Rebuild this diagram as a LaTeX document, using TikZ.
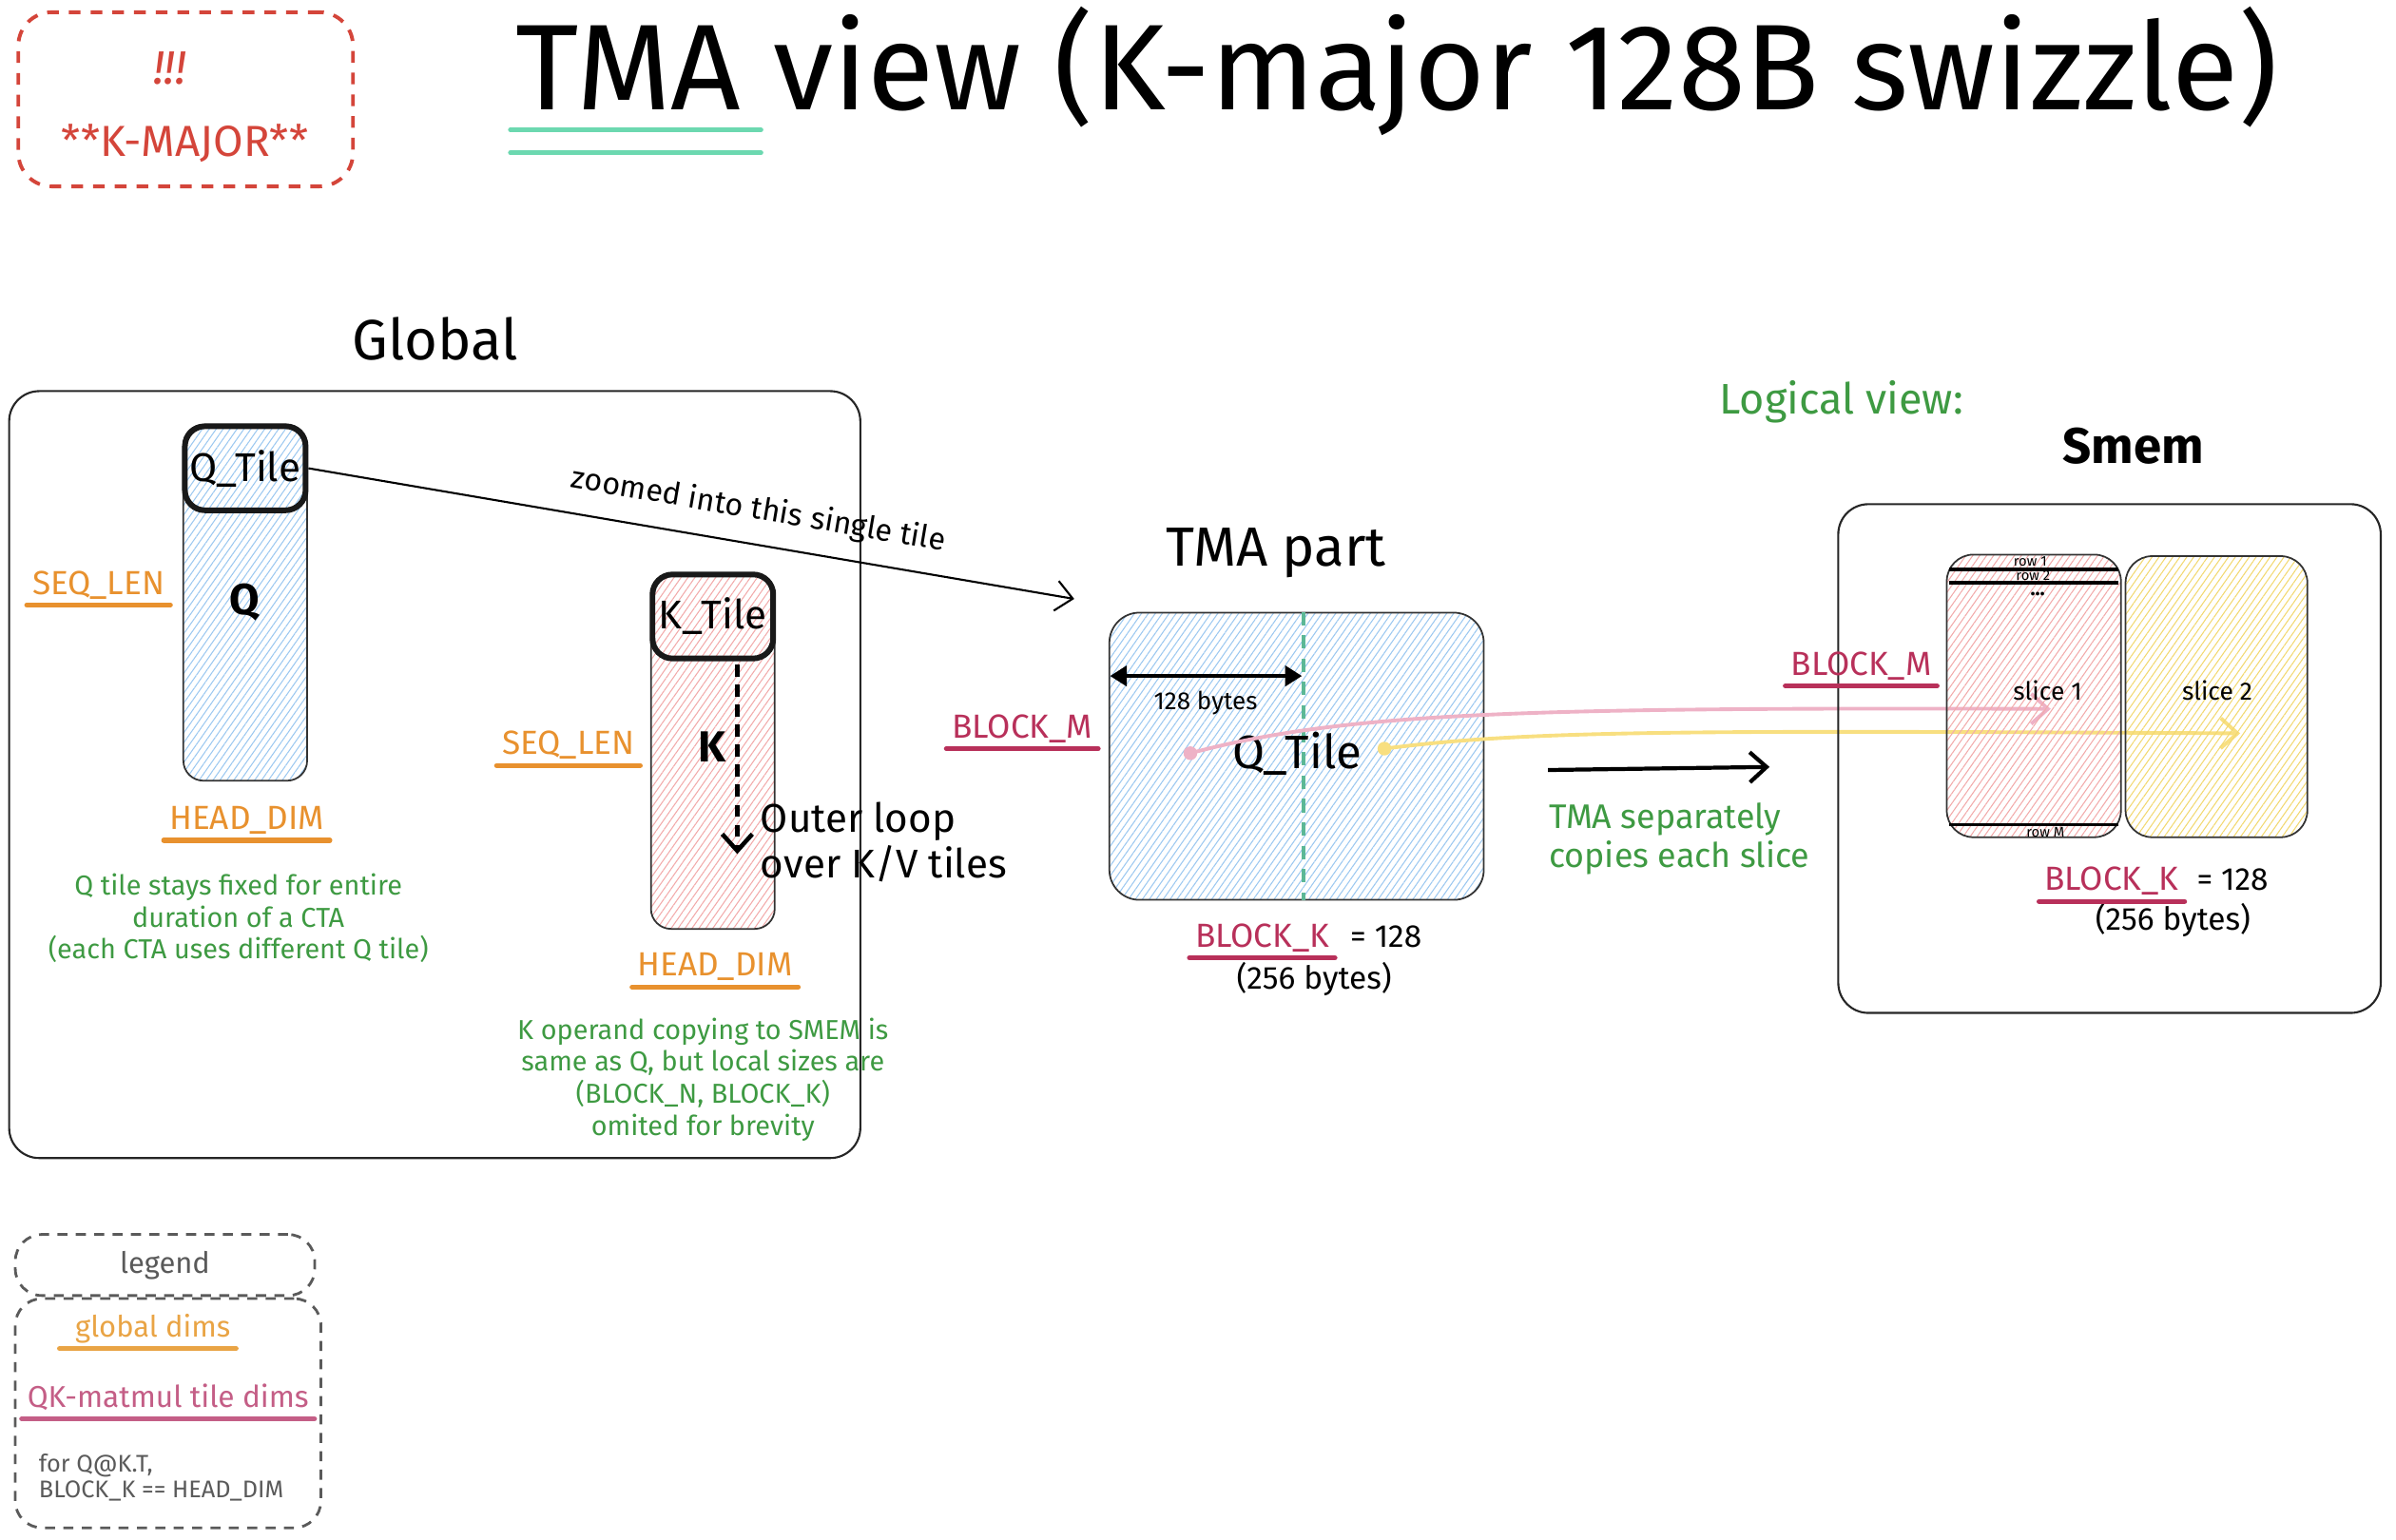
\documentclass[tikz,border=0pt]{standalone}
\usepackage{fontspec}
\setmainfont{Fira Sans}
\usetikzlibrary{arrows.meta,patterns.meta,calc}
\newlength{\px}\setlength{\px}{0.016071cm}

\definecolor{warnred}{HTML}{D4453A}
\definecolor{dimorange}{HTML}{E8912E}
\definecolor{tilecrim}{HTML}{B8305A}
\definecolor{notegreen}{HTML}{3E9A42}
\definecolor{seafoam}{HTML}{6CD8B0}
\definecolor{qblue}{HTML}{9CC8F0}
\definecolor{kpink}{HTML}{F2AAAA}
\definecolor{syellow}{HTML}{F2D870}
\definecolor{flowpink}{HTML}{EEB2C6}
\definecolor{flowyellow}{HTML}{F8DF80}
\definecolor{legendgrey}{HTML}{5A5A5A}
\definecolor{legorange}{HTML}{E9A445}
\definecolor{legpink}{HTML}{C45E86}

\tikzset{
  hatch/.style={pattern={Lines[angle=55,distance=1.7pt,line width=0.3pt]},pattern color=#1},
  panel/.style={draw=black!85,line width=0.6pt,rounded corners=9pt,inner sep=0pt},
  colbox/.style={draw=black!80,line width=0.5pt,rounded corners=6pt,inner sep=0pt,hatch=#1},
  tileframe/.style={draw=black!90,line width=1.7pt,rounded corners=6pt,inner sep=0pt,font=\fontsize{12}{14}\selectfont},
  dim/.style={text=#1,inner xsep=1.5pt,inner ysep=0pt,anchor=base,font=\fontsize{10}{12}\selectfont},
  uline/.style={draw=#1,line width=1.5pt,line cap=round},
  note/.style={text=notegreen,align=center,font=\fontsize{8.2}{9.6}\selectfont},
  rowtag/.style={inner sep=0pt,font=\fontsize{4.2}{5}\selectfont},
  barb/.style={-{Straight Barb[length=5pt,width=9pt]}},
  flow/.style={draw=#1,line width=1.1pt,line cap=round,-{Straight Barb[length=5pt,width=9pt]}},
  dot/.style={circle,fill=#1,inner sep=0pt,minimum size=9\px},
  legendbox/.style={draw=legendgrey,line width=0.8pt,dash pattern=on 3pt off 2.5pt,rounded corners=8pt,inner sep=0pt}
}

\begin{document}
\begin{tikzpicture}[x=0.016071cm,y=-0.016071cm]
\useasboundingbox (0,0) rectangle (1568,1008);

\node[draw=warnred,line width=1.1pt,dash pattern=on 3.5pt off 3pt,rounded corners=10pt,minimum width=219\px,minimum height=114\px] (kmajor) at (121.5,65) {};
\node[text=warnred,font=\fontsize{14}{16}\selectfont\itshape] (bang) at (111,45) {!!!};
\node[text=warnred,font=\fontsize{13}{15}\selectfont] (kmajortxt) at (121,94) {**K-MAJOR**};

\node[anchor=base,font=\fontsize{36.5}{40}\selectfont] (title) at (914,72) {TMA view (K-major 128B swizzle)};
\draw[seafoam,line width=1.4pt,line cap=round] (334,85) -- (498,85) (334,100) -- (498,100);

% global tensors
\node[font=\fontsize{17}{20}\selectfont] (globallbl) at (285,222) {Global};
\node[panel,minimum width=557\px,minimum height=502\px] (globalbox) at (284.5,507) {};

\node[colbox=qblue,minimum width=81\px,minimum height=233\px] (qcol) at (160.5,394.5) {};
\node[tileframe,minimum width=79\px,minimum height=55\px] (qtile) at (160.5,306.5) {Q\_Tile};
\node[font=\fontsize{13}{15}\selectfont\bfseries] (qname) at (160,394) {Q};
\node[dim=dimorange] (seqq) at (64.5,389) {SEQ\_LEN};
\node[dim=dimorange] (headq) at (161.5,543) {HEAD\_DIM};
\node[note] (qnote) at (156,601) {Q tile stays fixed for entire\\duration of a CTA\\(each CTA uses different Q tile)};

\node[colbox=kpink,minimum width=81\px,minimum height=232\px] (kcol) at (466.5,492) {};
\node[tileframe,minimum width=79\px,minimum height=55\px] (ktile) at (466.5,403.5) {K\_Tile};
\node[font=\fontsize{13}{15}\selectfont\bfseries] (kname) at (466,489) {K};
\coordinate (loopend) at (482.5,559);
\draw[line width=1.3pt,dash pattern=on 3.6pt off 2.4pt,barb] ([xshift=16\px,yshift=-2\px]ktile.south) -- (loopend);
\node[anchor=west,align=left,font=\fontsize{12}{13.7}\selectfont] (outerloop) at (490,551) {Outer loop\\over K/V tiles};
\node[dim=dimorange] (seqk) at (372,494) {SEQ\_LEN};
\node[dim=dimorange] (headk) at (468,639) {HEAD\_DIM};
\node[note] (knote) at (460,706.5) {K operand copying to SMEM is\\same as Q, but local sizes are\\(BLOCK\_N, BLOCK\_K)\\omited for brevity};

% zoom into one tile
\coordinate (zoomend) at (703,392);
\draw[line width=0.6pt,barb] (qtile.east) -- (zoomend) node[sloped,above,pos=0.58,yshift=2pt,font=\fontsize{9.2}{11}\selectfont] {zoomed into this single tile};

% TMA part
\node[font=\fontsize{16.5}{19}\selectfont] (tmalbl) at (835,362) {TMA part};
\node[colbox=qblue,rounded corners=9pt,minimum width=245\px,minimum height=188\px] (tmabox) at (848.5,495) {};
\draw[seafoam!85!black,line width=1pt,dash pattern=on 4pt off 3pt] ($(tmabox.north)+(4.5,0)$) -- ($(tmabox.south)+(4.5,0)$);
\draw[{Triangle[length=5pt,width=6pt]}-{Triangle[length=5pt,width=6pt]},line width=1.1pt] ($(tmabox.north west)+(1,42)$) -- ($(tmabox.north)+(3.5,42)$);
\node[font=\fontsize{7.4}{9}\selectfont] (bytes128) at (789,460) {128 bytes};
\node[font=\fontsize{14}{16}\selectfont] (tmaq) at (849,493) {Q\_Tile};
\node[dim=tilecrim] (bmleft) at (669,483) {BLOCK\_M};
\node[dim=tilecrim] (bkmid) at (826,620) {BLOCK\_K};
\node[anchor=base,font=\fontsize{9.5}{11}\selectfont] (eqmid) at (907,620) {= 128};
\node[font=\fontsize{9.5}{11}\selectfont] (bytesmid) at (860,641) {(256 bytes)};

\node[dot=flowpink] (pinkdot) at (779,493) {};
\node[dot=flowyellow] (yellowdot) at (906,490) {};
\coordinate (pinkend) at (1342,464);
\coordinate (yellowend) at (1466,480);
\draw[flow=flowpink] (pinkdot.center) .. controls (880,466) and (1000,463) .. (pinkend);
\draw[flow=flowyellow] (yellowdot.center) .. controls (1000,478) and (1100,478) .. (yellowend);

\coordinate (copyfrom) at (1013,504);
\coordinate (copyto) at (1158,502);
\draw[line width=1.2pt,barb] (copyfrom) -- (copyto);
\node[anchor=west,align=left,text=notegreen,font=\fontsize{10.2}{11.4}\selectfont] (copynote) at (1006,549) {TMA separately\\copies each slice};

% smem
\node[text=notegreen,font=\fontsize{12.8}{15}\selectfont] (logical) at (1205,263) {Logical view:};
\node[font=\fontsize{15}{18}\selectfont\bfseries] (smemlbl) at (1396,292) {Smem};
\node[panel,minimum width=355\px,minimum height=333\px] (smembox) at (1380.5,496.5) {};
\node[colbox=kpink,rounded corners=8pt,minimum width=114\px,minimum height=185\px] (slice1) at (1331,455.5) {};
\node[colbox=syellow,rounded corners=8pt,minimum width=119\px,minimum height=184\px] (slice2) at (1450.5,456) {};
\draw[line width=0.9pt] (1275.5,372.7) -- (1386.5,372.7) (1275.5,381.4) -- (1386.5,381.4) (1275.5,540) -- (1386.5,540);
\node[rowtag] (row1) at (1328.6,367.5) {row 1};
\node[rowtag] (row2) at (1330.5,377) {row 2};
\node[rowtag,font=\fontsize{6}{6}\selectfont\bfseries] (rowdots) at (1333.5,389) {...};
\node[rowtag] (rowm) at (1338.6,544.5) {row M};
\node[font=\fontsize{7.5}{9}\selectfont] (slice1lbl) at (1340,452) {slice 1};
\node[font=\fontsize{7.5}{9}\selectfont] (slice2lbl) at (1451,452) {slice 2};
\node[dim=tilecrim] (bmright) at (1218,442) {BLOCK\_M};
\node[dim=tilecrim] (bkright) at (1382,583) {BLOCK\_K};
\node[anchor=base,font=\fontsize{9.5}{11}\selectfont] (eqright) at (1461,583) {= 128};
\node[font=\fontsize{9.5}{11}\selectfont] (bytesright) at (1422,602) {(256 bytes)};

\foreach \nd/\cl in {seqq/dimorange,headq/dimorange,seqk/dimorange,headk/dimorange,bmleft/tilecrim,bkmid/tilecrim,bmright/tilecrim,bkright/tilecrim}
  \draw[uline=\cl] ([yshift=-3.2pt]\nd.base west) -- ([yshift=-3.2pt]\nd.base east);

% legend
\node[legendbox,minimum width=196\px,minimum height=40\px,text=legendgrey,font=\fontsize{8.8}{10}\selectfont] (legendhead) at (108,828) {legend};
\node[legendbox,minimum width=200\px,minimum height=150\px] (legendbody) at (110,925) {};
\node[dim=legorange,font=\fontsize{8.8}{10}\selectfont] (legglobal) at (100,875) {global dims};
\node[dim=legpink,font=\fontsize{9}{10}\selectfont] (legtile) at (110,921) {QK-matmul tile dims};
\draw[uline=legorange] ([yshift=-3.5pt,xshift=-3pt]legglobal.base west) -- ([yshift=-3.5pt]legglobal.base east);
\draw[uline=legpink] ([yshift=-3.5pt]legtile.base west) -- ([yshift=-3.5pt]legtile.base east);
\node[anchor=north west,align=left,inner sep=0pt,text=legendgrey,font=\fontsize{7.2}{7.9}\selectfont] (legnote) at (25,951) {for Q@K.T,\\BLOCK\_K == HEAD\_DIM};
\end{tikzpicture}
\end{document}
